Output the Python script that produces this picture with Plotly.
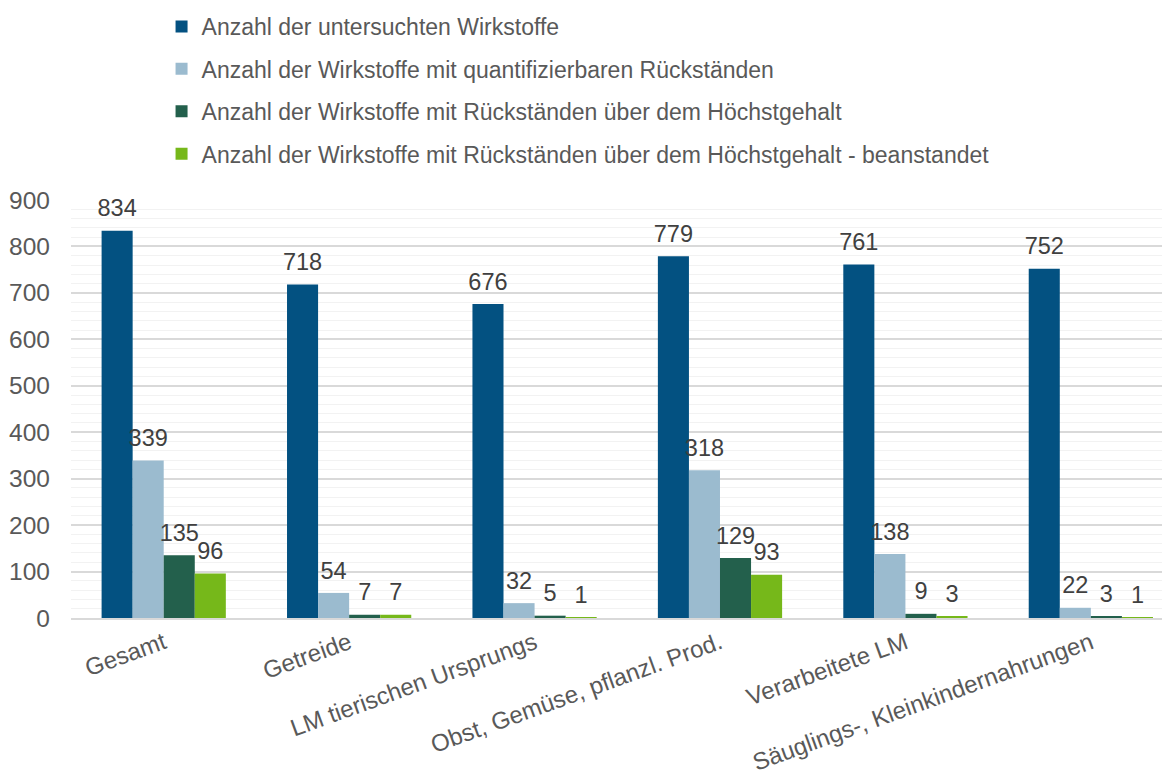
import plotly.graph_objects as go

categories = ["Gesamt", "Getreide", "LM tierischen Ursprungs",
              "Obst, Gemüse, pflanzl. Prod.", "Verarbeitete LM",
              "Säuglings-, Kleinkindernahrungen"]
series_names = [
    "Anzahl der untersuchten Wirkstoffe",
    "Anzahl der Wirkstoffe mit quantifizierbaren Rückständen",
    "Anzahl der Wirkstoffe mit Rückständen über dem Höchstgehalt",
    "Anzahl der Wirkstoffe mit Rückständen über dem Höchstgehalt - beanstandet",
]
untersucht = [834, 718, 676, 779, 761, 752]
quantifizierbar = [339, 54, 32, 318, 138, 22]
ueber_hoechst = [135, 7, 5, 129, 9, 3]
beanstandet = [96, 7, 1, 93, 3, 1]
colors = ["#035181", "#9bbbcf", "#23604c", "#76b81a"]

font_family = "Liberation Sans, Arial, sans-serif"
fs = 23
fs_tick = 24
fig = go.Figure()
all_series = [untersucht, quantifizierbar, ueber_hoechst, beanstandet]
for i, (name, vals) in enumerate(zip(series_names, all_series)):
    fig.add_trace(go.Bar(
        x=categories, y=vals, name=name,
        marker=dict(color=colors[i], line=dict(width=0)),
        offsetgroup=str(i), alignmentgroup="a",
        legendgroup=str(i), hoverinfo="x+y",
    ))
for i, vals in enumerate(all_series):
    fig.add_trace(go.Scatter(
        x=categories, y=vals, mode="markers+text", text=[str(v) for v in vals],
        textposition="top center", cliponaxis=False,
        textfont=dict(size=23.5, color="#404040", family=font_family),
        marker=dict(size=12, color="rgba(0,0,0,0)"),
        offsetgroup=str(i), alignmentgroup="a",
        showlegend=False, hoverinfo="skip",
    ))

fig.update_layout(
    width=1170, height=774,
    paper_bgcolor="white", plot_bgcolor="white",
    font=dict(family=font_family, size=fs, color="#595959"),
    barmode="group", bargap=0.33, bargroupgap=0,
    scattermode="group", scattergap=0.33,
    margin=dict(l=63, r=0, t=192, b=164, autoexpand=False),
    legend=dict(x=0.0818, y=1.4665, xanchor="left", yanchor="top", tracegroupgap=9.5,
                font=dict(size=fs, color="#595959", family=font_family),
                bgcolor="rgba(0,0,0,0)"),
    xaxis=dict(tickangle=-20, showline=True, linecolor="#d9d9d9", linewidth=1.5,
               tickfont=dict(size=fs_tick, color="#595959"), range=[-0.5, 5.47],
               automargin=False),
    yaxis=dict(range=[0, 900], dtick=100, showgrid=True, gridcolor="#d9d9d9",
               gridwidth=1.5, zeroline=False, ticklabelstandoff=20, automargin=False,
               tickfont=dict(size=24.5, color="#595959"),
               minor=dict(dtick=20, showgrid=True, gridcolor="#f2f2f2", gridwidth=1)),
)
fig.write_html("out.html")
